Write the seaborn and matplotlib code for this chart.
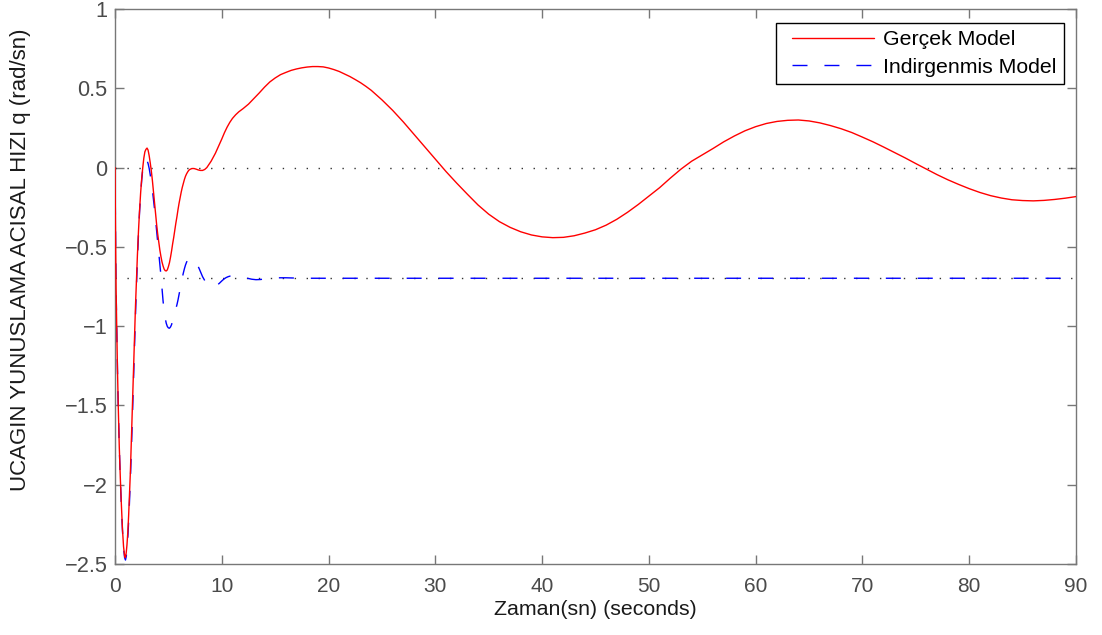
import numpy as np
import pandas as pd
import matplotlib
matplotlib.use("Agg")
import matplotlib.pyplot as plt
from matplotlib.ticker import FixedLocator, FuncFormatter
from matplotlib.lines import Line2D
from matplotlib.legend_handler import HandlerLine2D
import seaborn as sns

# Pitch-rate step response: full model vs reduced model
t_full = [0.00, 0.03, 0.06, 0.10, 0.16, 0.23, 0.31, 0.40, 0.50, 0.60, 0.70, 0.80, 0.90, 0.97,
          1.05, 1.12, 1.20, 1.28, 1.36, 1.44, 1.52, 1.60, 1.68, 1.76, 1.84, 1.92, 2.00, 2.10,
          2.20, 2.30, 2.40, 2.50, 2.60, 2.70, 2.80, 2.90, 3.00, 3.10, 3.20, 3.30, 3.40, 3.50,
          3.60, 3.70, 3.80, 3.90, 4.00, 4.10, 4.20, 4.30, 4.40, 4.50, 4.60, 4.70, 4.80, 4.90,
          5.00, 5.10, 5.20, 5.30, 5.40, 5.50, 5.60, 5.70, 5.80, 5.90, 6.00, 6.10, 6.20, 6.30,
          6.40, 6.50, 6.60, 6.70, 6.80, 6.90, 7.00, 7.20, 7.40, 7.60, 7.80, 8.00, 8.20, 8.40,
          8.60, 8.80, 9.00, 9.20, 9.40, 9.60, 9.80, 10.00, 10.25, 10.50, 10.75, 11.00, 11.30,
          11.60, 12.00, 12.50, 13.00, 13.50, 14.00, 14.50, 15.00, 15.50, 16.00, 16.50, 17.00,
          17.50, 18.00, 18.50, 19.00, 19.50, 20.00, 20.50, 21.00, 21.50, 22.00, 22.50, 23.00,
          23.50, 24.00, 24.50, 25.00, 26.00, 27.00, 28.00, 29.00, 30.00, 31.00, 32.00, 33.00,
          34.00, 35.00, 36.00, 37.00, 38.00, 39.00, 40.00, 41.00, 42.00, 43.00, 44.00, 45.00,
          46.00, 47.00, 48.00, 49.00, 50.00, 51.00, 52.00, 53.00, 54.00, 55.00, 56.00, 57.00,
          58.00, 59.00, 60.00, 61.00, 62.00, 63.00, 64.00, 65.00, 66.00, 67.00, 68.00, 69.00,
          70.00, 71.00, 72.00, 73.00, 74.00, 75.00, 76.00, 77.00, 78.00, 79.00, 80.00, 81.00,
          82.00, 83.00, 84.00, 85.00, 86.00, 87.00, 88.00, 89.00, 90.00]
q_full = [0.000, -0.26, -0.50, -0.76, -1.00, -1.27, -1.52, -1.76, -1.96, -2.13, -2.28, -2.39,
          -2.45, -2.46, -2.43, -2.38, -2.30, -2.19, -2.06, -1.92, -1.75, -1.58, -1.40, -1.22,
          -1.04, -0.87, -0.72, -0.55, -0.40, -0.27, -0.16, -0.07, 0.00, 0.06, 0.10, 0.115,
          0.123, 0.110, 0.075, 0.030, -0.020, -0.080, -0.150, -0.220, -0.290, -0.360, -0.420,
          -0.470, -0.520, -0.560, -0.595, -0.620, -0.640, -0.650, -0.652, -0.645, -0.625,
          -0.600, -0.565, -0.525, -0.480, -0.440, -0.395, -0.350, -0.310, -0.265, -0.225,
          -0.190, -0.155, -0.125, -0.100, -0.075, -0.055, -0.040, -0.028, -0.018, -0.012,
          -0.006, -0.006, -0.010, -0.015, -0.018, -0.018, -0.012, 0.000, 0.020, 0.040, 0.065,
          0.090, 0.120, 0.150, 0.180, 0.220, 0.255, 0.285, 0.310, 0.333, 0.352, 0.372, 0.400,
          0.435, 0.470, 0.507, 0.540, 0.565, 0.586, 0.600, 0.613, 0.622, 0.629, 0.634, 0.637,
          0.637, 0.635, 0.628, 0.618, 0.606, 0.590, 0.574, 0.555, 0.535, 0.512, 0.487, 0.457,
          0.427, 0.361, 0.288, 0.210, 0.132, 0.055, -0.025, -0.098, -0.168, -0.236, -0.294,
          -0.341, -0.377, -0.405, -0.425, -0.437, -0.442, -0.440, -0.430, -0.413, -0.392,
          -0.363, -0.326, -0.282, -0.233, -0.180, -0.127, -0.067, -0.010, 0.040, 0.080, 0.120,
          0.162, 0.199, 0.232, 0.258, 0.278, 0.291, 0.298, 0.300, 0.294, 0.282, 0.265, 0.245,
          0.221, 0.192, 0.162, 0.129, 0.095, 0.061, 0.025, -0.010, -0.045, -0.077, -0.106,
          -0.133, -0.157, -0.177, -0.192, -0.203, -0.208, -0.210, -0.207, -0.201, -0.193, -0.183]

t_reduced = [0.00, 0.03, 0.06, 0.10, 0.16, 0.23, 0.31, 0.40, 0.50, 0.60, 0.70, 0.80, 0.90, 0.98,
             1.06, 1.14, 1.22, 1.30, 1.38, 1.46, 1.54, 1.62, 1.70, 1.78, 1.86, 1.94, 2.02, 2.10,
             2.20, 2.30, 2.40, 2.50, 2.60, 2.70, 2.80, 2.90, 3.00, 3.10, 3.20, 3.30, 3.40, 3.50,
             3.60, 3.70, 3.80, 3.90, 4.00, 4.10, 4.20, 4.30, 4.40, 4.50, 4.60, 4.70, 4.80, 4.90,
             5.00, 5.10, 5.20, 5.30, 5.40, 5.50, 5.60, 5.70, 5.80, 5.90, 6.00, 6.10, 6.20, 6.30,
             6.40, 6.50, 6.60, 6.70, 6.80, 6.90, 7.00, 7.10, 7.20, 7.30, 7.40, 7.50, 7.60, 7.70,
             7.80, 7.90, 8.00, 8.10, 8.20, 8.30, 8.40, 8.60, 8.80, 9.00, 9.20, 9.40, 9.60, 9.80,
             10.00, 10.20, 10.40, 10.60, 10.80, 11.00, 11.20, 11.40, 11.70, 12.00, 12.40, 12.80,
             13.20, 13.60, 14.00, 14.50, 15.00, 15.50, 16.00, 17.00, 18.00, 20.00, 30.00, 40.00,
             50.00, 60.00, 70.00, 80.00, 90.00]
q_reduced = [0.000, -0.26, -0.50, -0.76, -1.00, -1.27, -1.52, -1.76, -1.97, -2.14, -2.29, -2.40,
             -2.46, -2.475, -2.45, -2.39, -2.31, -2.20, -2.07, -1.93, -1.77, -1.60, -1.42, -1.24,
             -1.06, -0.89, -0.73, -0.58, -0.42, -0.28, -0.17, -0.08, -0.01, 0.03, 0.05, 0.055,
             0.045, 0.025, -0.005, -0.045, -0.090, -0.140, -0.200, -0.260, -0.330, -0.400,
             -0.470, -0.540, -0.610, -0.680, -0.760, -0.840, -0.905, -0.950, -0.982, -1.002,
             -1.011, -1.013, -1.005, -0.990, -0.965, -0.935, -0.910, -0.890, -0.865, -0.835,
             -0.800, -0.765, -0.730, -0.695, -0.665, -0.638, -0.615, -0.597, -0.584, -0.576,
             -0.572, -0.571, -0.573, -0.578, -0.586, -0.595, -0.604, -0.613, -0.625, -0.640,
             -0.656, -0.672, -0.688, -0.700, -0.712, -0.730, -0.742, -0.750, -0.753, -0.750,
             -0.740, -0.728, -0.715, -0.703, -0.694, -0.688, -0.684, -0.682, -0.682, -0.684,
             -0.688, -0.692, -0.698, -0.704, -0.707, -0.706, -0.703, -0.699, -0.696, -0.695,
             -0.695, -0.697, -0.698, -0.698, -0.698, -0.698, -0.698, -0.698, -0.698, -0.698,
             -0.698]

steady_full = 0.0
steady_reduced = -0.698

x_ticks = [0, 10, 20, 30, 40, 50, 60, 70, 80, 90]
y_ticks = [-2.5, -2, -1.5, -1, -0.5, 0, 0.5, 1]

series_names = ["Gerçek Model", "Indirgenmis Model"]
x_label = "Zaman(sn) (seconds)"
y_label = "UCAGIN YUNUSLAMA ACISAL HIZI q (rad/sn)"

sns.set_style("white")
plt.rcParams["font.family"] = ["Liberation Sans", "DejaVu Sans"]

FS = 15
AX_GREY = "#777777"
TXT_GREY = "#4a4a4a"

fig = plt.figure(figsize=(11.02, 6.35), dpi=100)
ax = fig.add_axes([115 / 1102, 1 - 564 / 635, 961 / 1102, 555 / 635])

df_full = pd.DataFrame({"t": t_full, "q": q_full})
df_red = pd.DataFrame({"t": t_reduced, "q": q_reduced})

# steady-state reference lines
ref_dots = (0, (1.0, 7.6))
for level in (steady_full, steady_reduced):
    ax.axhline(level, color="#333333", lw=1.0, linestyle=ref_dots, zorder=1)

sns.lineplot(data=df_full, x="t", y="q", ax=ax, color="red", lw=1.0,
             estimator=None, sort=False, label=series_names[0], zorder=3)
sns.lineplot(data=df_red, x="t", y="q", ax=ax, color="blue", lw=1.0,
             estimator=None, sort=False, label=series_names[1], zorder=2,
             linestyle=(0, (10.8, 12.2)))

ax.set_xlim(0, 90)
ax.set_ylim(-2.5, 1)
ax.xaxis.set_major_locator(FixedLocator(x_ticks))
ax.yaxis.set_major_locator(FixedLocator(y_ticks))
ax.yaxis.set_major_formatter(FuncFormatter(lambda v, p: f"{v:g}".replace("-", "\u2212")))
ax.xaxis.set_major_formatter(FuncFormatter(lambda v, p: f"{v:g}"))

for side in ("left", "right", "top", "bottom"):
    ax.spines[side].set_visible(True)
    ax.spines[side].set_color(AX_GREY)
    ax.spines[side].set_linewidth(1.0)

ax.tick_params(axis="both", which="major", direction="in", length=6.8, width=1.0,
               color=AX_GREY, labelcolor=TXT_GREY,
               top=True, right=True, left=True, bottom=True)
ax.tick_params(axis="x", pad=9, labelsize=FS)
ax.tick_params(axis="y", pad=5.5, labelsize=15.7)

ax.set_xlabel(x_label, fontsize=15.4, color="#1a1a1a")
ax.set_ylabel(y_label, fontsize=16, color="#1a1a1a")
ax.xaxis.set_label_coords(0.5, -0.064)
ax.yaxis.set_label_coords(-0.087, 0.548)

leg = ax.legend(loc="upper right", bbox_to_anchor=(0.9875, 0.9748), borderaxespad=0,
                fontsize=15.3, frameon=True, fancybox=False, framealpha=1,
                handlelength=4.25, handletextpad=0.45, borderpad=0.35, labelspacing=0.4,
                handler_map={Line2D: HandlerLine2D(xpad=0.4)})
leg.get_frame().set_edgecolor("black")
leg.get_frame().set_linewidth(1.0)
for txt in leg.get_texts():
    txt.set_color("black")

fig.savefig("out.png", dpi=100)
